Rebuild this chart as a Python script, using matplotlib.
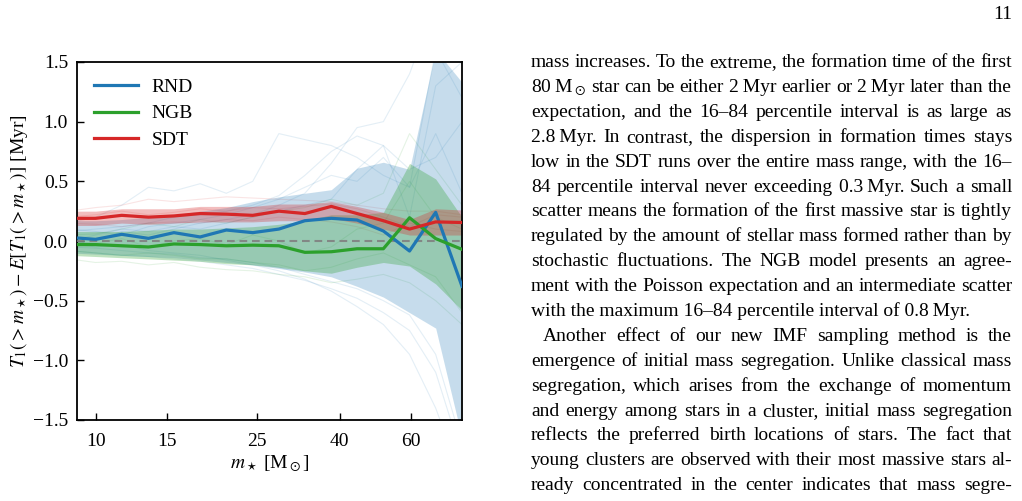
import numpy as np
import matplotlib
matplotlib.use("Agg")
import matplotlib.pyplot as plt

# ---------------- data ----------------
masses = [8.6, 10.0, 11.6, 13.5, 15.6, 18.1, 21.0, 24.4, 28.3, 32.8, 38.1, 44.1, 51.2, 59.4, 68.9, 80.0]

rnd_mean = [0.03, 0.014, 0.056, 0.022, 0.07, 0.034, 0.092, 0.07, 0.10, 0.17, 0.19, 0.176, 0.084, -0.084, 0.24, -0.38]
rnd_lo = [-0.10, -0.11, -0.12, -0.13, -0.14, -0.16, -0.18, -0.20, -0.23, -0.26, -0.30, -0.38, -0.47, -0.60, -0.73, -1.65]
rnd_hi = [0.17, 0.17, 0.18, 0.20, 0.22, 0.25, 0.28, 0.33, 0.37, 0.40, 0.43, 0.61, 0.66, 0.60, 1.60, 1.33]

ngb_mean = [-0.03, -0.03, -0.04, -0.05, -0.025, -0.03, -0.04, -0.035, -0.04, -0.095, -0.09, -0.065, -0.065, 0.195, 0.02, -0.07]
ngb_lo = [-0.12, -0.13, -0.14, -0.15, -0.16, -0.17, -0.19, -0.20, -0.22, -0.25, -0.27, -0.22, -0.18, -0.21, -0.36, -0.58]
ngb_hi = [0.08, 0.08, 0.08, 0.09, 0.10, 0.10, 0.11, 0.12, 0.14, 0.17, 0.22, 0.22, 0.24, 0.65, 0.52, 0.20]

sdt_mean = [0.19, 0.19, 0.215, 0.20, 0.21, 0.23, 0.225, 0.215, 0.25, 0.23, 0.29, 0.23, 0.17, 0.10, 0.16, 0.155]
sdt_lo = [0.13, 0.13, 0.15, 0.14, 0.15, 0.16, 0.16, 0.16, 0.17, 0.17, 0.19, 0.15, 0.10, 0.05, 0.05, 0.05]
sdt_hi = [0.25, 0.25, 0.27, 0.27, 0.27, 0.29, 0.29, 0.29, 0.31, 0.31, 0.33, 0.29, 0.24, 0.18, 0.27, 0.26]

rnd_run_a = [0.15, 0.20, 0.30, 0.45, 0.42, 0.48, 0.40, 0.50, 0.90, 0.85, 0.80, 0.70, 0.55, 0.45, 1.60, 1.20]
rnd_run_b = [0.05, 0.00, 0.08, 0.05, 0.10, 0.15, 0.18, 0.22, 0.30, 0.40, 0.65, 0.95, 1.00, 1.40, 2.00, 2.20]
rnd_run_c = [-0.08, -0.10, -0.12, -0.13, -0.15, -0.17, -0.20, -0.23, -0.28, -0.33, -0.40, -0.48, -0.60, -0.75, -1.10, -1.80]
rnd_run_d = [-0.02, -0.05, -0.03, -0.08, -0.10, -0.12, -0.16, -0.20, -0.25, -0.32, -0.42, -0.55, -0.70, -0.95, -1.40, -2.00]
rnd_run_e = [0.10, 0.08, 0.05, 0.12, 0.15, 0.18, 0.22, 0.28, 0.35, 0.45, 0.55, 0.50, 0.70, 0.45, 0.90, 0.40]
rnd_run_f = [0.00, 0.05, 0.10, 0.08, 0.12, 0.10, 0.15, 0.20, 0.25, 0.30, 0.35, 0.60, 0.80, 0.20, 1.30, 1.50]
rnd_run_g = [0.08, 0.10, 0.12, 0.15, 0.20, 0.22, 0.25, 0.30, 0.38, 0.55, 0.75, 0.88, 0.80, 0.60, 0.70, 1.00]
rnd_run_h = [-0.05, -0.06, -0.08, -0.10, -0.11, -0.14, -0.15, -0.18, -0.22, -0.28, -0.34, -0.40, -0.50, -0.62, -0.95, -1.70]

ngb_run_a = [0.05, 0.06, 0.10, 0.15, 0.12, 0.18, 0.15, 0.20, 0.25, 0.28, 0.35, 0.30, 0.40, 0.90, 0.60, 0.30]
ngb_run_b = [-0.15, -0.18, -0.17, -0.20, -0.18, -0.22, -0.24, -0.25, -0.28, -0.30, -0.35, -0.32, -0.28, -0.35, -0.50, -0.70]
ngb_run_c = [0.00, -0.02, 0.02, -0.05, 0.00, 0.02, -0.03, 0.05, 0.00, -0.10, -0.05, 0.10, 0.15, 0.50, 0.20, 0.10]
ngb_run_d = [-0.08, -0.10, -0.12, -0.10, -0.12, -0.15, -0.15, -0.18, -0.20, -0.25, -0.22, -0.15, -0.10, -0.20, -0.30, -0.60]

sdt_run_a = [0.25, 0.28, 0.30, 0.35, 0.33, 0.35, 0.37, 0.36, 0.35, 0.34, 0.33, 0.30, 0.27, 0.25, 0.25, 0.22]
sdt_run_b = [0.15, 0.14, 0.12, 0.15, 0.16, 0.15, 0.18, 0.17, 0.20, 0.18, 0.16, 0.12, 0.05, 0.15, 0.10, 0.08]
sdt_run_c = [0.20, 0.22, 0.25, 0.22, 0.24, 0.27, 0.25, 0.28, 0.27, 0.29, 0.31, 0.27, 0.20, 0.12, 0.22, 0.20]

labels = ["RND", "NGB", "SDT"]
xtick_vals = [10, 15, 25, 40, 60]
ytick_vals = [-1.5, -1.0, -0.5, 0.0, 0.5, 1.0, 1.5]

page_number = "11"
body_lines = [
    "mass increases. To the extreme, the formation time of the first",
    "80\u2009M$_\\odot$ star can be either 2\u2009Myr earlier or 2\u2009Myr later than the",
    "expectation, and the 16\u201384 percentile interval is as large as",
    "2.8\u2009Myr. In contrast, the dispersion in formation times stays",
    "low in the SDT runs over the entire mass range, with the 16\u2013",
    "84 percentile interval never exceeding 0.3\u2009Myr. Such a small",
    "scatter means the formation of the first massive star is tightly",
    "regulated by the amount of stellar mass formed rather than by",
    "stochastic fluctuations. The NGB model presents an agree-",
    "ment with the Poisson expectation and an intermediate scatter",
    "with the maximum 16\u201384 percentile interval of 0.8\u2009Myr.",
    "Another effect of our new IMF sampling method is the",
    "emergence of initial mass segregation. Unlike classical mass",
    "segregation, which arises from the exchange of momentum",
    "and energy among stars in a cluster, initial mass segregation",
    "reflects the preferred birth locations of stars. The fact that",
    "young clusters are observed with their most massive stars al-",
    "ready concentrated in the center indicates that mass segre-",
]

# ---------------- style ----------------
plt.rcParams['font.family'] = ['Liberation Serif', 'DejaVu Serif']
plt.rcParams['mathtext.fontset'] = 'stix'
plt.rcParams['axes.unicode_minus'] = True

W, H = 1022, 501
fig = plt.figure(figsize=(W / 100, H / 100), dpi=100)
ax = fig.add_axes([77 / W, 1 - 420 / H, (462 - 77) / W, (420 - 62) / H])

blue, green, red = '#1f77b4', '#2ca02c', '#d62728'

for run in [rnd_run_a, rnd_run_b, rnd_run_c, rnd_run_d, rnd_run_e, rnd_run_f, rnd_run_g, rnd_run_h]:
    ax.plot(masses, run, color=blue, lw=0.8, alpha=0.12, zorder=1)
for run in [ngb_run_a, ngb_run_b, ngb_run_c, ngb_run_d]:
    ax.plot(masses, run, color=green, lw=0.8, alpha=0.12, zorder=1)
for run in [sdt_run_a, sdt_run_b, sdt_run_c]:
    ax.plot(masses, run, color=red, lw=0.8, alpha=0.12, zorder=1)

ax.fill_between(masses, rnd_lo, rnd_hi, color=blue, alpha=0.25, lw=0, zorder=2)
ax.fill_between(masses, ngb_lo, ngb_hi, color=green, alpha=0.3, lw=0, zorder=2)
ax.fill_between(masses, sdt_lo, sdt_hi, color=red, alpha=0.3, lw=0, zorder=2)

ax.axhline(0, color='gray', ls=(0, (3.7, 2.3)), lw=1.5, alpha=0.9, zorder=3)

ax.plot(masses, rnd_mean, color=blue, lw=2.3, label=labels[0], zorder=4)
ax.plot(masses, ngb_mean, color=green, lw=2.3, label=labels[1], zorder=4)
ax.plot(masses, sdt_mean, color=red, lw=2.3, label=labels[2], zorder=4)

ax.set_xscale('log')
ax.set_xlim(9.0, 80.0)
ax.set_ylim(-1.5, 1.5)
ax.set_xticks(xtick_vals)
ax.set_xticklabels([str(v) for v in xtick_vals])
ax.xaxis.set_minor_locator(matplotlib.ticker.NullLocator())
ax.set_yticks(ytick_vals)
ax.set_yticklabels([f"{v:.1f}".replace('-', '\u2212') for v in ytick_vals])
ax.tick_params(axis='both', direction='in', length=5, width=1.0, labelsize=14)
ax.tick_params(axis='x', pad=9)
ax.tick_params(axis='y', pad=6.5)
for s in ax.spines.values():
    s.set_linewidth(1.3)

ax.set_xlabel(r'$m_\star$ [M$_\odot$]', fontsize=14, labelpad=3)
ax.set_ylabel(r'$T_1(>m_\star)-E[T_1(>m_\star)]$ [Myr]', fontsize=14, labelpad=2)

leg = ax.legend(loc='upper left', frameon=False, fontsize=14, handlelength=2.3,
                labelspacing=0.45, handletextpad=0.7, borderaxespad=0.45,
                bbox_to_anchor=(0.0, 1.0))

# ---------------- body text ----------------
renderer = fig.canvas.get_renderer()
FS = 14
X0, X1 = 531, 1012
BASE0, LSTEP = 67, 24.9
no_justify = {10}
indents = {11: 12}

def px2fig(x, y):
    return x / W, 1 - y / H

for i, line in enumerate(body_lines):
    yb = BASE0 + LSTEP * i
    start = X0 + indents.get(i, 0)
    if i in no_justify:
        fig.text(*px2fig(start, yb), line, fontsize=FS, va='baseline', ha='left')
        continue
    words = line.split(' ')
    texts = [fig.text(*px2fig(start, yb), w, fontsize=FS, va='baseline', ha='left') for w in words]
    widths = [t.get_window_extent(renderer).width for t in texts]
    gap = (X1 - start - sum(widths)) / (len(words) - 1)
    x = start
    for t, w in zip(texts, widths):
        t.set_position(px2fig(x, yb))
        x += w + gap

fig.text(*px2fig(1012, 19), page_number, fontsize=FS, ha='right', va='baseline')

fig.savefig('out.png', dpi=100)
